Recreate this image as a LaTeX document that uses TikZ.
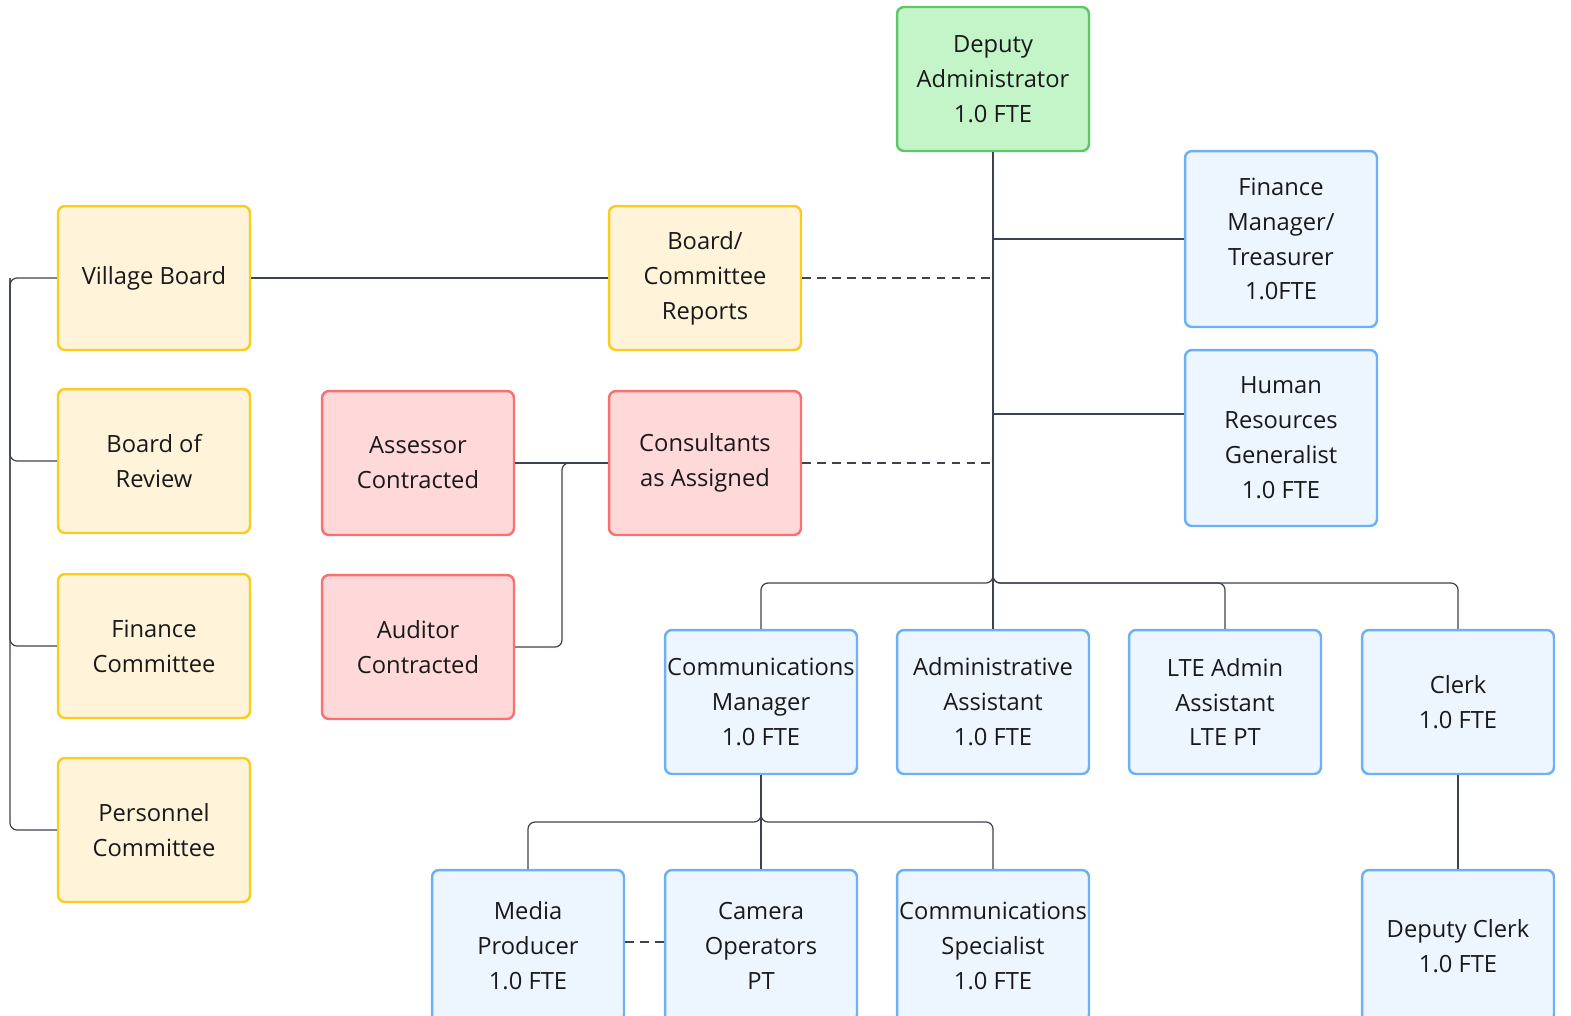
\documentclass[tikz,border=0pt]{standalone}
\usepackage{fontspec}
\setmainfont{Open Sans}
\definecolor{greenfill}{RGB}{195,245,200}
\definecolor{greenline}{RGB}{92,200,104}
\definecolor{yellowfill}{RGB}{255,243,217}
\definecolor{yellowline}{RGB}{250,204,30}
\definecolor{redfill}{RGB}{255,216,218}
\definecolor{redline}{RGB}{248,113,113}
\definecolor{bluefill}{RGB}{237,245,255}
\definecolor{blueline}{RGB}{108,176,245}
\definecolor{linkgray}{RGB}{61,67,77}
\begin{document}
\begin{tikzpicture}[x=0.02cm, y=-0.02cm,
    box/.style={draw, line width=1.4pt, rounded corners=4pt, align=center,
      minimum width=3.84cm, minimum height=2.88cm, inner sep=0pt,
      font=\fontsize{13.5}{19.9}\selectfont, text=black!90},
    tallbox/.style={box, minimum height=3.52cm},
    lowbox/.style={box, minimum height=3.04cm},
    greenbox/.style={box, fill=greenfill, draw=greenline},
    yellowbox/.style={box, fill=yellowfill, draw=yellowline},
    redbox/.style={box, fill=redfill, draw=redline},
    bluebox/.style={box, fill=bluefill, draw=blueline},
    link/.style={draw=linkgray, line width=0.7pt, rounded corners=4pt},
    dashlink/.style={link, dash pattern=on 5pt off 3.5pt}]
        \useasboundingbox (0,0) rectangle (1571,1015);                   %
        % top
        \node [greenbox]  (depadm)    at (993,79)   {Deputy\\Administrator\\1.0 FTE};
        \node [bluebox, tallbox] (finmgr) at (1281,239) {Finance\\Manager/\\Treasurer\\1.0FTE};
        \node [bluebox, tallbox] (hrgen)  at (1281,438) {Human\\Resources\\Generalist\\1.0 FTE};
        % boards, left column
        \node [yellowbox] (village)   at (154,278)  {Village Board};      %
        \node [yellowbox] (review)    at (154,461)  {Board of\\Review};   %
        \node [yellowbox] (fincom)    at (154,646)  {Finance\\Committee}; %
        \node [yellowbox] (personnel) at (154,830)  {Personnel\\Committee};
        \node [yellowbox] (boardrep)  at (705,278)  {Board/\\Committee\\Reports};
        % contracted
        \node [redbox]    (assessor)  at (418,463)  {Assessor\\Contracted};
        \node [redbox]    (consult)   at (705,463)  {Consultants\\as Assigned};
        \node [redbox]    (auditor)   at (418,647)  {Auditor\\Contracted};
        % staff row
        \node [bluebox]   (commgr)    at (761,702)  {Communications\\Manager\\1.0 FTE};
        \node [bluebox]   (admast)    at (993,702)  {Administrative\\Assistant\\1.0 FTE};
        \node [bluebox]   (lteast)    at (1225,702) {LTE Admin\\Assistant\\LTE PT};
        \node [bluebox]   (clerk)     at (1458,702) {Clerk\\1.0 FTE};  %
        % bottom row, cut by the page edge
        \node [bluebox, lowbox] (media)    at (528,946)  {Media\\Producer\\1.0 FTE};
        \node [bluebox, lowbox] (camera)   at (761,946)  {Camera\\Operators\\PT};
        \node [bluebox, lowbox] (comspec)  at (993,946)  {Communications\\Specialist\\1.0 FTE};
        \node [bluebox, lowbox] (depclerk) at (1458,946) {Deputy Clerk\\1.0 FTE};
        % bends
        \coordinate (trunkB) at (993,583);                               %
        \coordinate (busL)   at (10,278);                                %
        \coordinate (busC)   at (761,822);                               %
        \coordinate (audbend) at (562,463);                              %
        \coordinate (hrtap)  at ([yshift=0.48cm]hrgen.west);            %
        \coordinate (medtap) at ([yshift=0.08cm]media.east);            %
        % links
        \draw [link] (depadm.south) -- (trunkB) -| (commgr.north);       %
        \draw [link] (depadm.south) -- (trunkB) -| (lteast.north);       %
        \draw [link] (depadm.south) -- (trunkB) -| (clerk.north);        %
        \draw [link] (depadm.south) -- (admast.north);                   %
        \draw [link] (depadm.south |- finmgr.west) -- (finmgr.west);     %
        \draw [link] (depadm.south |- hrtap) -- (hrtap);                 %
        \draw [dashlink] (boardrep.east) -- (boardrep.east -| depadm.south);
        \draw [dashlink] (consult.east) -- (consult.east -| depadm.south);
        \draw [link] (village.east) -- (boardrep.west);                  %
        \draw [link] (village.west) -- (busL) |- (personnel.west);       %
        \draw [link] (busL) |- (review.west);                            %
        \draw [link] (busL) |- (fincom.west);                            %
        \draw [link] (assessor.east) -- (consult.west);                  %
        \draw [link] (auditor.east) -| (audbend) -- (consult.west);      %
        \draw [link] (commgr.south) -- (busC) -| (media.north);          %
        \draw [link] (commgr.south) -- (busC) -| (comspec.north);        %
        \draw [link] (commgr.south) -- (camera.north);                   %
        \draw [dashlink] (medtap) -- (medtap -| camera.west);            %
        \draw [link] (clerk.south) -- (depclerk.north);                  %
\end{tikzpicture}
\end{document}
